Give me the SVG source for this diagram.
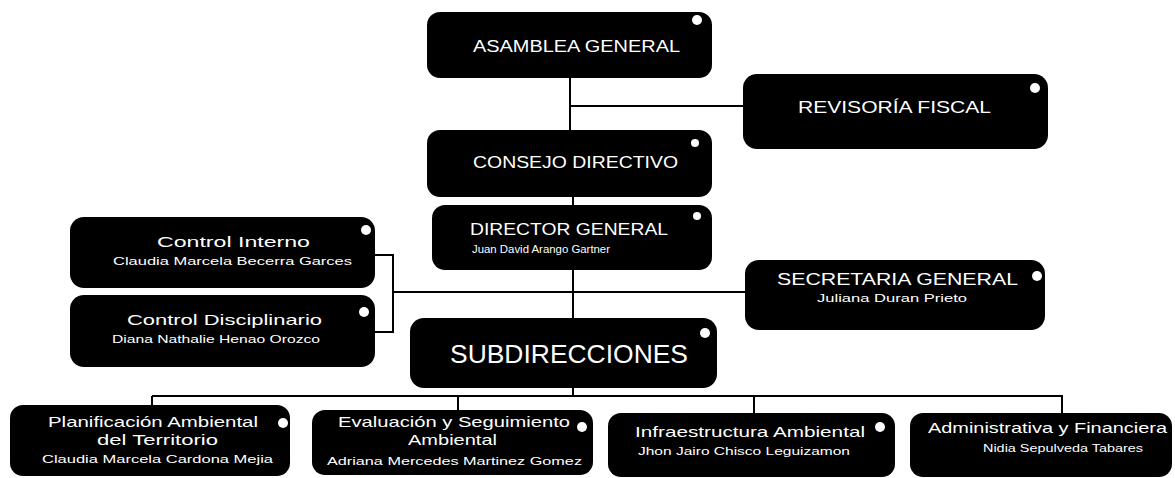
<svg xmlns="http://www.w3.org/2000/svg" width="1175" height="478" viewBox="0 0 1175 478">
<style>
.box{fill:#000}
.dot{fill:#fff}
.t{fill:#fff;font-family:"Liberation Sans",Arial,sans-serif}
.h{font-size:17px}
.m{font-size:15px}
.s{font-size:11.5px}
.c line,.c polyline{stroke:#000;stroke-width:2;fill:none}
</style>
<rect width="1175" height="478" fill="#fff"/>
<g class="c" id="connectors">
<line x1="570" y1="78" x2="570" y2="130"/>
<line x1="570" y1="106" x2="744" y2="106"/>
<line x1="573" y1="196" x2="573" y2="206"/>
<line x1="573" y1="269" x2="573" y2="319"/>
<line x1="393" y1="292" x2="746" y2="292"/>
<polyline points="374,255 393,255 393,332 374,332"/>
<line x1="573" y1="387" x2="573" y2="396"/>
<line x1="152" y1="396" x2="1063" y2="396"/>
<line x1="152" y1="396" x2="152" y2="406"/>
<line x1="458" y1="396" x2="458" y2="411"/>
<line x1="754" y1="396" x2="754" y2="414"/>
<line x1="1062" y1="396" x2="1062" y2="414"/>
</g>
<g id="asamblea">
<rect class="box" x="427" y="12" width="285" height="66" rx="13"/>
<circle class="dot" cx="697" cy="20" r="5"/>
<text class="t h" x="473" y="52" textLength="207" lengthAdjust="spacingAndGlyphs">ASAMBLEA GENERAL</text>
</g>
<g id="revisoria">
<rect class="box" x="743" y="74" width="305" height="75" rx="14"/>
<circle class="dot" cx="1035" cy="88" r="5"/>
<text class="t h" x="798" y="113" textLength="193" lengthAdjust="spacingAndGlyphs">REVISORÍA FISCAL</text>
</g>
<g id="consejo">
<rect class="box" x="427" y="130" width="285" height="67" rx="13"/>
<circle class="dot" cx="695" cy="143" r="4"/>
<text class="t h" x="473" y="168" textLength="205" lengthAdjust="spacingAndGlyphs">CONSEJO DIRECTIVO</text>
</g>
<g id="director">
<rect class="box" x="432" y="205" width="280" height="65" rx="13"/>
<circle class="dot" cx="697" cy="216" r="4"/>
<text class="t h" x="470" y="235" textLength="198" lengthAdjust="spacingAndGlyphs">DIRECTOR GENERAL</text>
<text class="t s" x="472" y="253" textLength="138" lengthAdjust="spacingAndGlyphs">Juan David Arango Gartner</text>
</g>
<g id="control-interno">
<rect class="box" x="70" y="217" width="305" height="71" rx="14"/>
<circle class="dot" cx="366" cy="230" r="5"/>
<text class="t m" x="157" y="247" textLength="153" lengthAdjust="spacingAndGlyphs">Control Interno</text>
<text class="t s" x="113" y="265" textLength="239" lengthAdjust="spacingAndGlyphs">Claudia Marcela Becerra Garces</text>
</g>
<g id="control-disciplinario">
<rect class="box" x="70" y="295" width="305" height="72" rx="14"/>
<circle class="dot" cx="364" cy="312" r="5"/>
<text class="t m" x="127" y="325" textLength="195" lengthAdjust="spacingAndGlyphs">Control Disciplinario</text>
<text class="t s" x="112" y="343" textLength="208" lengthAdjust="spacingAndGlyphs">Diana Nathalie Henao Orozco</text>
</g>
<g id="secretaria">
<rect class="box" x="745" y="260" width="300" height="70" rx="14"/>
<circle class="dot" cx="1037" cy="276" r="5"/>
<text class="t h" x="777" y="285" textLength="241" lengthAdjust="spacingAndGlyphs">SECRETARIA GENERAL</text>
<text class="t s" x="817" y="302" textLength="150" lengthAdjust="spacingAndGlyphs">Juliana Duran Prieto</text>
</g>
<g id="subdirecciones">
<rect class="box" x="410" y="318" width="307" height="70" rx="14"/>
<circle class="dot" cx="705" cy="333" r="5"/>
<text class="t" style="font-size:25px" x="450" y="363" textLength="238" lengthAdjust="spacingAndGlyphs">SUBDIRECCIONES</text>
</g>
<g id="planificacion">
<rect class="box" x="10" y="405" width="280" height="71" rx="13"/>
<circle class="dot" cx="283" cy="423" r="5"/>
<text class="t m" x="48" y="427" textLength="210" lengthAdjust="spacingAndGlyphs">Planificación Ambiental</text>
<text class="t m" x="97" y="445" textLength="121" lengthAdjust="spacingAndGlyphs">del Territorio</text>
<text class="t s" x="42" y="463" textLength="231" lengthAdjust="spacingAndGlyphs">Claudia Marcela Cardona Mejia</text>
</g>
<g id="evaluacion">
<rect class="box" x="312" y="410" width="281" height="65" rx="13"/>
<circle class="dot" cx="582" cy="427" r="5"/>
<text class="t m" x="338" y="427" textLength="232" lengthAdjust="spacingAndGlyphs">Evaluación y Seguimiento</text>
<text class="t m" x="408" y="445" textLength="89" lengthAdjust="spacingAndGlyphs">Ambiental</text>
<text class="t s" x="327" y="465" textLength="255" lengthAdjust="spacingAndGlyphs">Adriana Mercedes Martinez Gomez</text>
</g>
<g id="infraestructura">
<rect class="box" x="608" y="413" width="287" height="64" rx="13"/>
<circle class="dot" cx="880" cy="427" r="5"/>
<text class="t m" x="635" y="437" textLength="230" lengthAdjust="spacingAndGlyphs">Infraestructura Ambiental</text>
<text class="t s" x="638" y="455" textLength="212" lengthAdjust="spacingAndGlyphs">Jhon Jairo Chisco Leguizamon</text>
</g>
<g id="administrativa">
<rect class="box" x="910" y="413" width="262" height="64" rx="13"/>
<text class="t m" x="928" y="433" textLength="239" lengthAdjust="spacingAndGlyphs">Administrativa y Financiera</text>
<text class="t s" x="983" y="452" textLength="160" lengthAdjust="spacingAndGlyphs">Nidia Sepulveda Tabares</text>
</g>
</svg>
